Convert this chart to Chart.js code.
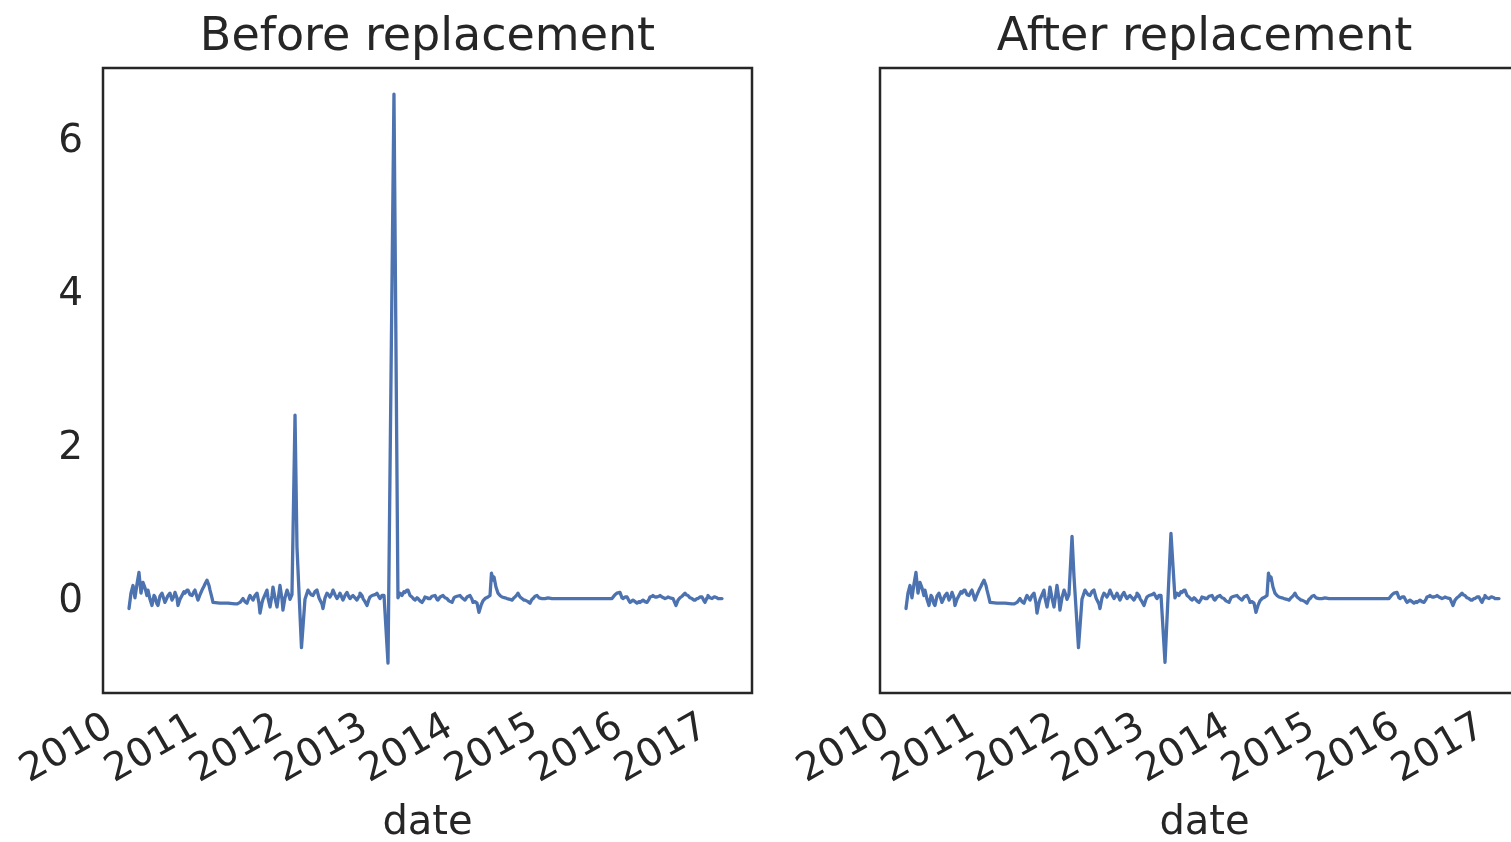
<!DOCTYPE html>
<html>
<head>
<meta charset="utf-8">
<title>Before and after replacement</title>
<script src="https://cdn.jsdelivr.net/npm/chart.js@4.4.1/dist/chart.umd.min.js"></script>
<style>
  html, body { margin: 0; padding: 0; background: #ffffff; width: 1511px; height: 842px; overflow: hidden; }
  .panel { position: absolute; top: 0; width: 855px; height: 842px; }
  #panel-before { left: 0; }
  #panel-after { left: 777px; }
</style>
</head>
<body>
<div class="panel" id="panel-before"><canvas id="chart-before" width="855" height="842"></canvas></div>
<div class="panel" id="panel-after"><canvas id="chart-after" width="855" height="842"></canvas></div>
<script>
// Weekly-ish observations, dates as decimal years
const dateYears = [
  2010.165, 2010.188, 2010.212, 2010.235, 2010.259, 2010.282, 2010.306, 2010.329, 2010.353, 2010.376,
  2010.388, 2010.412, 2010.435, 2010.459, 2010.471, 2010.494, 2010.506, 2010.529, 2010.553, 2010.576,
  2010.588, 2010.612, 2010.624, 2010.647, 2010.671, 2010.694, 2010.706, 2010.729, 2010.741, 2010.765,
  2010.788, 2010.812, 2010.824, 2010.847, 2010.859, 2010.882, 2010.906, 2010.929, 2010.941, 2010.965,
  2010.976, 2011.000, 2011.024, 2011.047, 2011.059, 2011.082, 2011.106, 2011.118, 2011.141, 2011.153,
  2011.235, 2011.329, 2011.412, 2011.435, 2011.471, 2011.506, 2011.529, 2011.553, 2011.576, 2011.588,
  2011.612, 2011.624, 2011.647, 2011.671, 2011.694, 2011.706, 2011.729, 2011.741, 2011.765, 2011.788,
  2011.800, 2011.824, 2011.847, 2011.859, 2011.882, 2011.906, 2011.929, 2011.941, 2011.965, 2011.976,
  2012.000, 2012.024, 2012.047, 2012.059, 2012.082, 2012.118, 2012.141, 2012.194, 2012.235, 2012.271,
  2012.306, 2012.329, 2012.353, 2012.376, 2012.400, 2012.412, 2012.435, 2012.447, 2012.471, 2012.494,
  2012.518, 2012.529, 2012.553, 2012.565, 2012.588, 2012.612, 2012.635, 2012.647, 2012.671, 2012.682,
  2012.706, 2012.729, 2012.753, 2012.765, 2012.788, 2012.800, 2012.824, 2012.847, 2012.871, 2012.882,
  2012.906, 2012.918, 2012.941, 2012.965, 2012.988, 2013.000, 2013.024, 2013.035, 2013.059, 2013.082,
  2013.106, 2013.118, 2013.141, 2013.165, 2013.212, 2013.282, 2013.329, 2013.353, 2013.376, 2013.400,
  2013.412, 2013.435, 2013.447, 2013.471, 2013.494, 2013.518, 2013.529, 2013.553, 2013.565, 2013.588,
  2013.612, 2013.635, 2013.647, 2013.671, 2013.682, 2013.706, 2013.729, 2013.765, 2013.788, 2013.800,
  2013.824, 2013.859, 2013.882, 2013.906, 2013.929, 2013.965, 2013.988, 2014.000, 2014.024, 2014.059,
  2014.082, 2014.118, 2014.141, 2014.176, 2014.200, 2014.212, 2014.235, 2014.259, 2014.282, 2014.306,
  2014.329, 2014.353, 2014.388, 2014.412, 2014.429, 2014.447, 2014.459, 2014.482, 2014.506, 2014.529,
  2014.553, 2014.588, 2014.612, 2014.647, 2014.671, 2014.694, 2014.706, 2014.729, 2014.741, 2014.765,
  2014.788, 2014.812, 2014.824, 2014.859, 2014.882, 2014.906, 2014.918, 2014.941, 2014.965, 2014.988,
  2015.024, 2015.059, 2015.094, 2015.141, 2015.471, 2015.788, 2015.847, 2015.882, 2015.906, 2015.941,
  2015.965, 2015.976, 2016.000, 2016.024, 2016.047, 2016.059, 2016.082, 2016.094, 2016.118, 2016.141,
  2016.165, 2016.176, 2016.200, 2016.212, 2016.235, 2016.259, 2016.282, 2016.294, 2016.318, 2016.329,
  2016.353, 2016.376, 2016.400, 2016.412, 2016.435, 2016.471, 2016.494, 2016.506, 2016.529, 2016.565,
  2016.588, 2016.600, 2016.624, 2016.647, 2016.671, 2016.706, 2016.718, 2016.741, 2016.765, 2016.788,
  2016.812, 2016.824, 2016.847, 2016.859, 2016.882, 2016.906, 2016.929, 2016.941, 2016.965, 2016.976,
  2017.000, 2017.024, 2017.047, 2017.059, 2017.082, 2017.094, 2017.118, 2017.141
];

// Series with the two outliers still in place
const beforeValues = [
  -0.12, 0.08, 0.18, 0.02, 0.20, 0.35, 0.08, 0.22, 0.15, 0.05,
  0.12, 0.00, -0.08, 0.05, 0.03, -0.06, -0.08, 0.04, 0.08, 0.00,
  -0.04, 0.02, 0.05, 0.08, -0.01, 0.04, 0.09, 0.02, -0.08, 0.00,
  0.05, 0.10, 0.08, 0.12, 0.12, 0.06, 0.05, 0.10, 0.12, 0.03,
  -0.01, 0.06, 0.12, 0.17, 0.20, 0.25, 0.18, 0.12, 0.02, -0.04,
  -0.05, -0.05, -0.06, -0.06, -0.04, 0.01, -0.03, -0.05, 0.02, 0.05,
  0.01, -0.01, 0.05, 0.08, -0.05, -0.18, -0.05, 0.00, 0.06, 0.12,
  0.02, -0.10, 0.05, 0.16, 0.02, -0.10, 0.08, 0.18, 0.00, -0.14,
  0.02, 0.12, 0.05, 0.00, 0.06, 2.40, 0.68, -0.63, 0.00, 0.12,
  0.06, 0.05, 0.10, 0.12, 0.02, -0.01, -0.06, -0.12, 0.02, 0.08,
  0.05, 0.03, 0.08, 0.12, 0.06, 0.01, 0.05, 0.08, 0.02, -0.01,
  0.05, 0.09, 0.03, 0.01, 0.04, 0.05, 0.02, -0.01, 0.04, 0.08,
  0.05, 0.01, -0.03, -0.08, 0.00, 0.03, 0.05, 0.05, 0.06, 0.08,
  0.03, 0.01, 0.05, 0.05, -0.83, 6.58, 0.02, 0.08, 0.05, 0.10,
  0.09, 0.12, 0.12, 0.05, 0.03, 0.00, -0.01, 0.02, 0.01, -0.02,
  -0.04, 0.00, 0.03, 0.02, 0.01, 0.01, 0.04, 0.05, 0.00, -0.01,
  0.03, 0.05, 0.02, 0.01, -0.02, -0.04, 0.02, 0.03, 0.04, 0.05,
  0.02, -0.01, 0.03, 0.05, 0.00, -0.04, -0.03, -0.05, -0.17, -0.08,
  -0.02, 0.01, 0.03, 0.05, 0.34, 0.25, 0.29, 0.16, 0.08, 0.05,
  0.03, 0.02, 0.01, 0.00, -0.01, 0.02, 0.03, 0.06, 0.08, 0.03,
  0.01, -0.01, -0.01, -0.03, -0.05, 0.00, 0.01, 0.04, 0.05, 0.02,
  0.01, 0.01, 0.02, 0.01, 0.01, 0.01, 0.01, 0.06, 0.08, 0.09,
  0.02, 0.01, 0.03, 0.03, -0.02, -0.04, -0.02, -0.01, -0.03, -0.05,
  -0.03, -0.04, -0.02, -0.01, -0.03, -0.04, 0.00, 0.03, 0.04, 0.05,
  0.03, 0.03, 0.04, 0.05, 0.03, 0.01, 0.02, 0.03, 0.02, 0.01,
  -0.05, -0.08, -0.01, 0.02, 0.04, 0.08, 0.06, 0.05, 0.02, 0.01,
  -0.01, -0.01, 0.01, 0.01, 0.03, 0.03, -0.02, -0.04, 0.02, 0.05,
  0.02, 0.01, 0.03, 0.03, 0.02, 0.01, 0.01, 0.01
];

// Same series after the two outlying peaks were replaced
const afterValues = [
  -0.12, 0.08, 0.18, 0.02, 0.20, 0.35, 0.08, 0.22, 0.15, 0.05,
  0.12, 0.00, -0.08, 0.05, 0.03, -0.06, -0.08, 0.04, 0.08, 0.00,
  -0.04, 0.02, 0.05, 0.08, -0.01, 0.04, 0.09, 0.02, -0.08, 0.00,
  0.05, 0.10, 0.08, 0.12, 0.12, 0.06, 0.05, 0.10, 0.12, 0.03,
  -0.01, 0.06, 0.12, 0.17, 0.20, 0.25, 0.18, 0.12, 0.02, -0.04,
  -0.05, -0.05, -0.06, -0.06, -0.04, 0.01, -0.03, -0.05, 0.02, 0.05,
  0.01, -0.01, 0.05, 0.08, -0.05, -0.18, -0.05, 0.00, 0.06, 0.12,
  0.02, -0.10, 0.05, 0.16, 0.02, -0.10, 0.08, 0.18, 0.00, -0.14,
  0.02, 0.12, 0.05, 0.00, 0.06, 0.82, 0.30, -0.63, 0.00, 0.12,
  0.06, 0.05, 0.10, 0.12, 0.02, -0.01, -0.06, -0.12, 0.02, 0.08,
  0.05, 0.03, 0.08, 0.12, 0.06, 0.01, 0.05, 0.08, 0.02, -0.01,
  0.05, 0.09, 0.03, 0.01, 0.04, 0.05, 0.02, -0.01, 0.04, 0.08,
  0.05, 0.01, -0.03, -0.08, 0.00, 0.03, 0.05, 0.05, 0.06, 0.08,
  0.03, 0.01, 0.05, 0.05, -0.82, 0.86, 0.02, 0.08, 0.05, 0.10,
  0.09, 0.12, 0.12, 0.05, 0.03, 0.00, -0.01, 0.02, 0.01, -0.02,
  -0.04, 0.00, 0.03, 0.02, 0.01, 0.01, 0.04, 0.05, 0.00, -0.01,
  0.03, 0.05, 0.02, 0.01, -0.02, -0.04, 0.02, 0.03, 0.04, 0.05,
  0.02, -0.01, 0.03, 0.05, 0.00, -0.04, -0.03, -0.05, -0.17, -0.08,
  -0.02, 0.01, 0.03, 0.05, 0.34, 0.25, 0.29, 0.16, 0.08, 0.05,
  0.03, 0.02, 0.01, 0.00, -0.01, 0.02, 0.03, 0.06, 0.08, 0.03,
  0.01, -0.01, -0.01, -0.03, -0.05, 0.00, 0.01, 0.04, 0.05, 0.02,
  0.01, 0.01, 0.02, 0.01, 0.01, 0.01, 0.01, 0.06, 0.08, 0.09,
  0.02, 0.01, 0.03, 0.03, -0.02, -0.04, -0.02, -0.01, -0.03, -0.05,
  -0.03, -0.04, -0.02, -0.01, -0.03, -0.04, 0.00, 0.03, 0.04, 0.05,
  0.03, 0.03, 0.04, 0.05, 0.03, 0.01, 0.02, 0.03, 0.02, 0.01,
  -0.05, -0.08, -0.01, 0.02, 0.04, 0.08, 0.06, 0.05, 0.02, 0.01,
  -0.01, -0.01, 0.01, 0.01, 0.03, 0.03, -0.02, -0.04, 0.02, 0.05,
  0.02, 0.01, 0.03, 0.03, 0.02, 0.01, 0.01, 0.01
];

const yearTicks = [2010, 2011, 2012, 2013, 2014, 2015, 2016, 2017];
const valueTicks = [0, 2, 4, 6];
const panelTitles = ['Before replacement', 'After replacement'];
const xAxisLabel = 'date';

const INK = '#262626';
const LINE = '#4c72b0';
const FAMILY = '"DejaVu Sans", "Liberation Sans", sans-serif';

// Dark box round each plotting area
const framePlugin = {
  id: 'frame',
  afterDatasetsDraw(chart) {
    const a = chart.chartArea;
    const ctx = chart.ctx;
    ctx.save();
    ctx.strokeStyle = INK;
    ctx.lineWidth = 2.5;
    ctx.strokeRect(a.left, a.top, a.right - a.left, a.bottom - a.top);
    ctx.restore();
  }
};

function buildPanel(canvasId, title, values, showValueLabels) {
  const points = dateYears.map((x, i) => ({ x: x, y: values[i] }));
  return new Chart(document.getElementById(canvasId), {
    type: 'line',
    data: {
      datasets: [{
        data: points,
        borderColor: LINE,
        borderWidth: 3.3,
        pointRadius: 0,
        tension: 0,
        fill: false,
        borderJoinStyle: 'round',
        borderCapStyle: 'round'
      }]
    },
    options: {
      responsive: false,
      animation: false,
      devicePixelRatio: 1,
      events: [],
      layout: { padding: 0 },
      plugins: {
        legend: { display: false },
        tooltip: { enabled: false },
        title: {
          display: true,
          text: title,
          color: INK,
          font: { family: FAMILY, size: 46, weight: 'normal', lineHeight: 1.2 },
          padding: { top: 10, bottom: 2.8 }
        }
      },
      scales: {
        x: {
          type: 'linear',
          min: 2009.859,
          max: 2017.494,
          grid: { display: false, drawTicks: false },
          border: { display: false },
          afterBuildTicks: (scale) => { scale.ticks = yearTicks.map(v => ({ value: v })); },
          afterFit: (scale) => { scale.height = 149; },
          ticks: {
            autoSkip: false,
            minRotation: 30,
            maxRotation: 30,
            color: INK,
            padding: 11,
            labelOffset: -5,
            font: { family: FAMILY, size: 39 },
            callback: (v) => String(v)
          },
          title: {
            display: true,
            text: xAxisLabel,
            color: INK,
            font: { family: FAMILY, size: 40, lineHeight: 0.8 },
            padding: { top: 0, bottom: 2 }
          }
        },
        y: {
          min: -1.22,
          max: 6.92,
          grid: { display: false, drawTicks: false },
          border: { display: false },
          afterBuildTicks: (scale) => { scale.ticks = valueTicks.map(v => ({ value: v })); },
          afterFit: (scale) => { scale.width = 103; },
          ticks: {
            display: showValueLabels,
            color: INK,
            padding: 20,
            labelOffset: 3,
            font: { family: FAMILY, size: 39 },
            callback: (v) => String(v)
          }
        },
        yRight: {
          position: 'right',
          grid: { display: false, drawTicks: false },
          border: { display: false },
          ticks: { display: false },
          afterFit: (scale) => { scale.width = 103; }
        }
      }
    },
    plugins: [framePlugin]
  });
}

buildPanel('chart-before', panelTitles[0], beforeValues, true);
buildPanel('chart-after', panelTitles[1], afterValues, false);
</script>
</body>
</html>
